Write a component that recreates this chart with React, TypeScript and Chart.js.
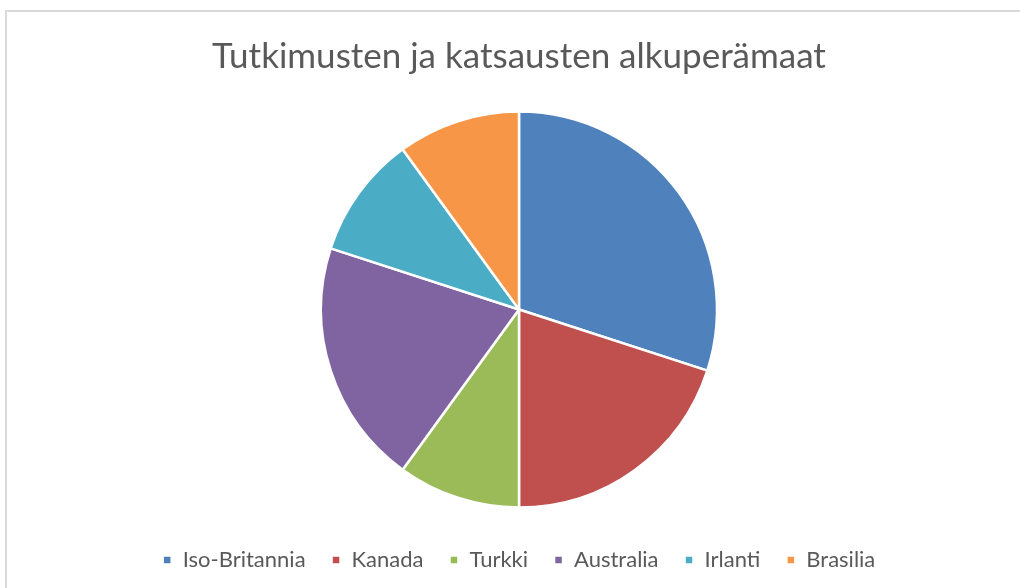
import React, { useEffect, useRef } from "react";
import { Chart, registerables } from "chart.js";

Chart.register(...registerables);

const labels = ["Iso-Britannia", "Kanada", "Turkki", "Australia", "Irlanti", "Brasilia"];
const values = [3, 2, 1, 2, 1, 1];
const colors = ["#4F81BD", "#C0504D", "#9BBB59", "#8064A2", "#4BACC6", "#F79646"];
const titleText = "Tutkimusten ja katsausten alkuperämaat";

export default function App() {
  const ref = useRef<HTMLCanvasElement>(null);
  useEffect(() => {
    if (!ref.current) return;
    const chart = new Chart(ref.current, {
      type: "pie",
      data: {
        labels,
        datasets: [
          {
            data: values,
            backgroundColor: colors,
            borderColor: "#ffffff",
            borderWidth: 2.5,
            radius: 198,
          },
        ],
      },
      options: {
        responsive: false,
        animation: false,
        layout: { padding: { top: 0, bottom: 7, left: 0, right: 0 } },
        plugins: {
          title: {
            display: true,
            text: titleText,
            color: "#595959",
            font: { family: "Lato", size: 35, weight: "normal" },
            padding: { top: 36, bottom: 18 },
          },
          legend: {
            position: "bottom",
            labels: {
              color: "#595959",
              font: { family: "Lato", size: 22 },
              boxWidth: 9,
              boxHeight: 9,
              padding: 26,
            },
          },
          tooltip: { enabled: false },
        },
      },
    });
    return () => chart.destroy();
  }, []);
  return (
    <div>
      <div
        style={{
          position: "fixed",
          left: 5,
          top: 10,
          width: 1200,
          height: 800,
          border: "2px solid #d9d9d9",
          boxSizing: "border-box",
        }}
      />
      <canvas
        ref={ref}
        width={1020}
        height={588}
        style={{ position: "fixed", left: 9, top: 0, width: 1020, height: 588 }}
      />
    </div>
  );
}
